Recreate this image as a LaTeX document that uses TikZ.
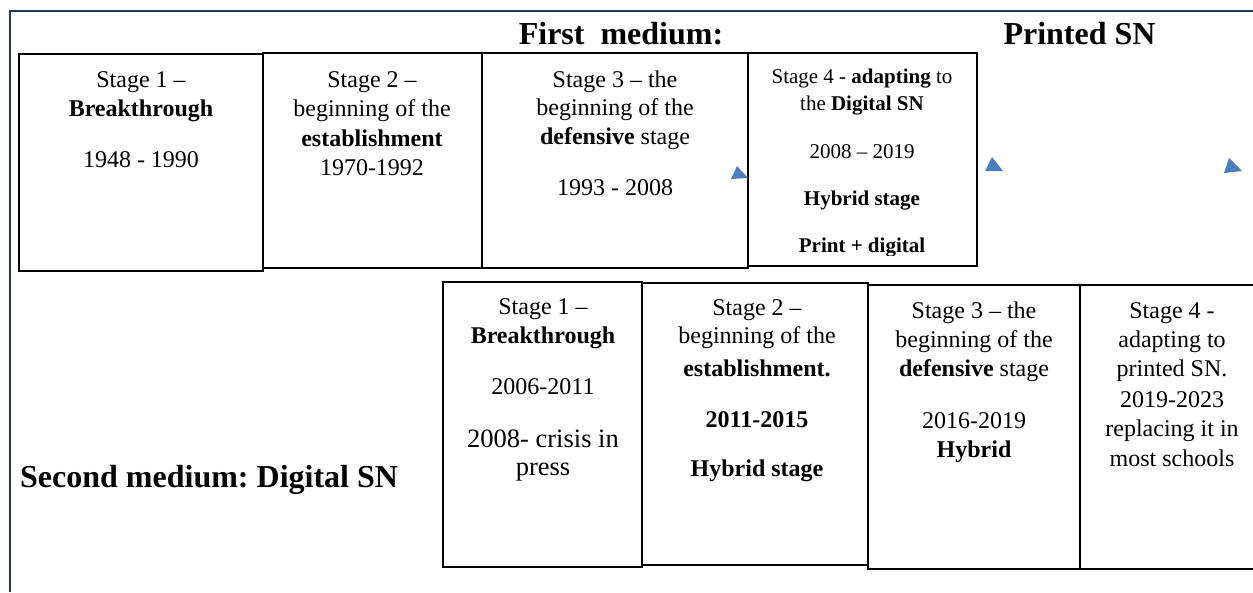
\documentclass[tikz,border=0pt]{standalone}
\usepackage{fontspec}
\setmainfont{Liberation Serif}
\frenchspacing
\definecolor{framenavy}{RGB}{32,52,88}
\definecolor{triblue}{RGB}{74,126,193}
\begin{document}
\begin{tikzpicture}[x=1pt,y=-1pt,
  stagebox/.style={draw=black, line width=1.8pt, inner sep=0pt},
  txt/.style={anchor=base, inner sep=0pt, font=\fontsize{24}{28}\selectfont},
  txtsmall/.style={anchor=base, inner sep=0pt, font=\fontsize{21}{25}\selectfont},
  txtlarge/.style={anchor=base, inner sep=0pt, font=\fontsize{26.5}{30}\selectfont},
  heading/.style={anchor=base, inner sep=0pt, font=\fontsize{32}{36}\selectfont\bfseries},
  tri/.style={fill=triblue}]
\useasboundingbox (0,0) rectangle (1253,592);
% outer frame (top and left visible)
\draw[framenavy, line width=2.8pt] (10,592) -- (10,11) -- (1253,11);
% headings
\node[heading] (h1) at (621,44) {First\ \ medium:};
\node[heading] (h2) at (1079.5,44) {Printed SN};
\node[heading, anchor=base west] (h3) at (20,487) {Second medium: Digital SN};
% top row boxes
\node[stagebox, minimum width=244pt, minimum height=217pt] (p1) at (141,162.5) {};
\node[stagebox, minimum width=219pt, minimum height=215pt] (p2) at (372.5,160.5) {};
\node[stagebox, minimum width=266pt, minimum height=215pt] (p3) at (615,160.5) {};
\node[stagebox, minimum width=229pt, minimum height=213pt] (p4) at (862.5,159.5) {};
% bottom row boxes
\node[stagebox, minimum width=199pt, minimum height=285pt] (d1) at (542.5,424.5) {};
\node[stagebox, minimum width=226pt, minimum height=282pt] (d2) at (755,424) {};
\node[stagebox, minimum width=212pt, minimum height=284pt] (d3) at (974,427) {};
\node[stagebox, minimum width=200pt, minimum height=284pt] (d4) at (1180,427) {};
% box p1
\node[txt] (p1a) at (141,87) {Stage 1 –};
\node[txt] (p1b) at (141,116) {\textbf{Breakthrough}};
\node[txt] (p1c) at (141,167) {1948 - 1990};
% box p2
\node[txt] (p2a) at (372,87) {Stage 2 –};
\node[txt] (p2b) at (372,116) {beginning of the};
\node[txt] (p2c) at (372,146) {\textbf{establishment}};
\node[txt] (p2d) at (372,175) {1970-1992};
% box p3
\node[txt] (p3a) at (615,87) {Stage 3 – the};
\node[txt] (p3b) at (615,115) {beginning of the};
\node[txt] (p3c) at (615,144) {\textbf{defensive} stage};
\node[txt] (p3d) at (615,195) {1993 - 2008};
% box p4
\begin{scope}
\clip (748,53) rectangle (977,255.5);
\node[txtsmall] (p4a) at (862,83) {Stage 4 - \textbf{adapting} to};
\node[txtsmall] (p4b) at (862,110) {the \textbf{Digital SN}};
\node[txtsmall] (p4c) at (862,158) {2008 – 2019};
\node[txtsmall] (p4d) at (862,205) {\textbf{Hybrid stage}};
\node[txtsmall] (p4e) at (862,252) {\textbf{Print + digital}};
\end{scope}
% box d1
\node[txt] (d1a) at (543,314) {Stage 1 –};
\node[txt] (d1b) at (543,343) {\textbf{Breakthrough}};
\node[txt] (d1c) at (543,394) {2006-2011};
\node[txtlarge] (d1d) at (543,447) {2008- crisis in};
\node[txtlarge] (d1e) at (543,475) {press};
% box d2
\node[txt] (d2a) at (757,315) {Stage 2 –};
\node[txt] (d2b) at (757,343) {beginning of the};
\node[txt] (d2c) at (757,376) {\textbf{establishment.}};
\node[txt] (d2d) at (757,427) {\textbf{2011-2015}};
\node[txt] (d2e) at (757,476) {\textbf{Hybrid stage}};
% box d3
\node[txt] (d3a) at (974,318) {Stage 3 – the};
\node[txt] (d3b) at (974,347) {beginning of the};
\node[txt] (d3c) at (974,376) {\textbf{defensive} stage};
\node[txt] (d3d) at (974,428) {2016-2019};
\node[txt] (d3e) at (974,457) {\textbf{Hybrid}};
% box d4
\node[txt] (d4a) at (1172,318) {Stage 4 -};
\node[txt] (d4b) at (1172,347) {adapting to};
\node[txt] (d4c) at (1172,376) {printed SN.};
\node[txt] (d4d) at (1172,407) {2019-2023};
\node[txt] (d4e) at (1172,436) {replacing it in};
\node[txt] (d4f) at (1172,466) {most schools};
% blue triangles
\fill[tri] (731,179) -- (737,166) -- (748,178) -- cycle;
\fill[tri] (985,171) -- (992,157) -- (1003,171) -- cycle;
\fill[tri] (1224,173) -- (1229,158) -- (1242,171) -- cycle;
\end{tikzpicture}
\end{document}
